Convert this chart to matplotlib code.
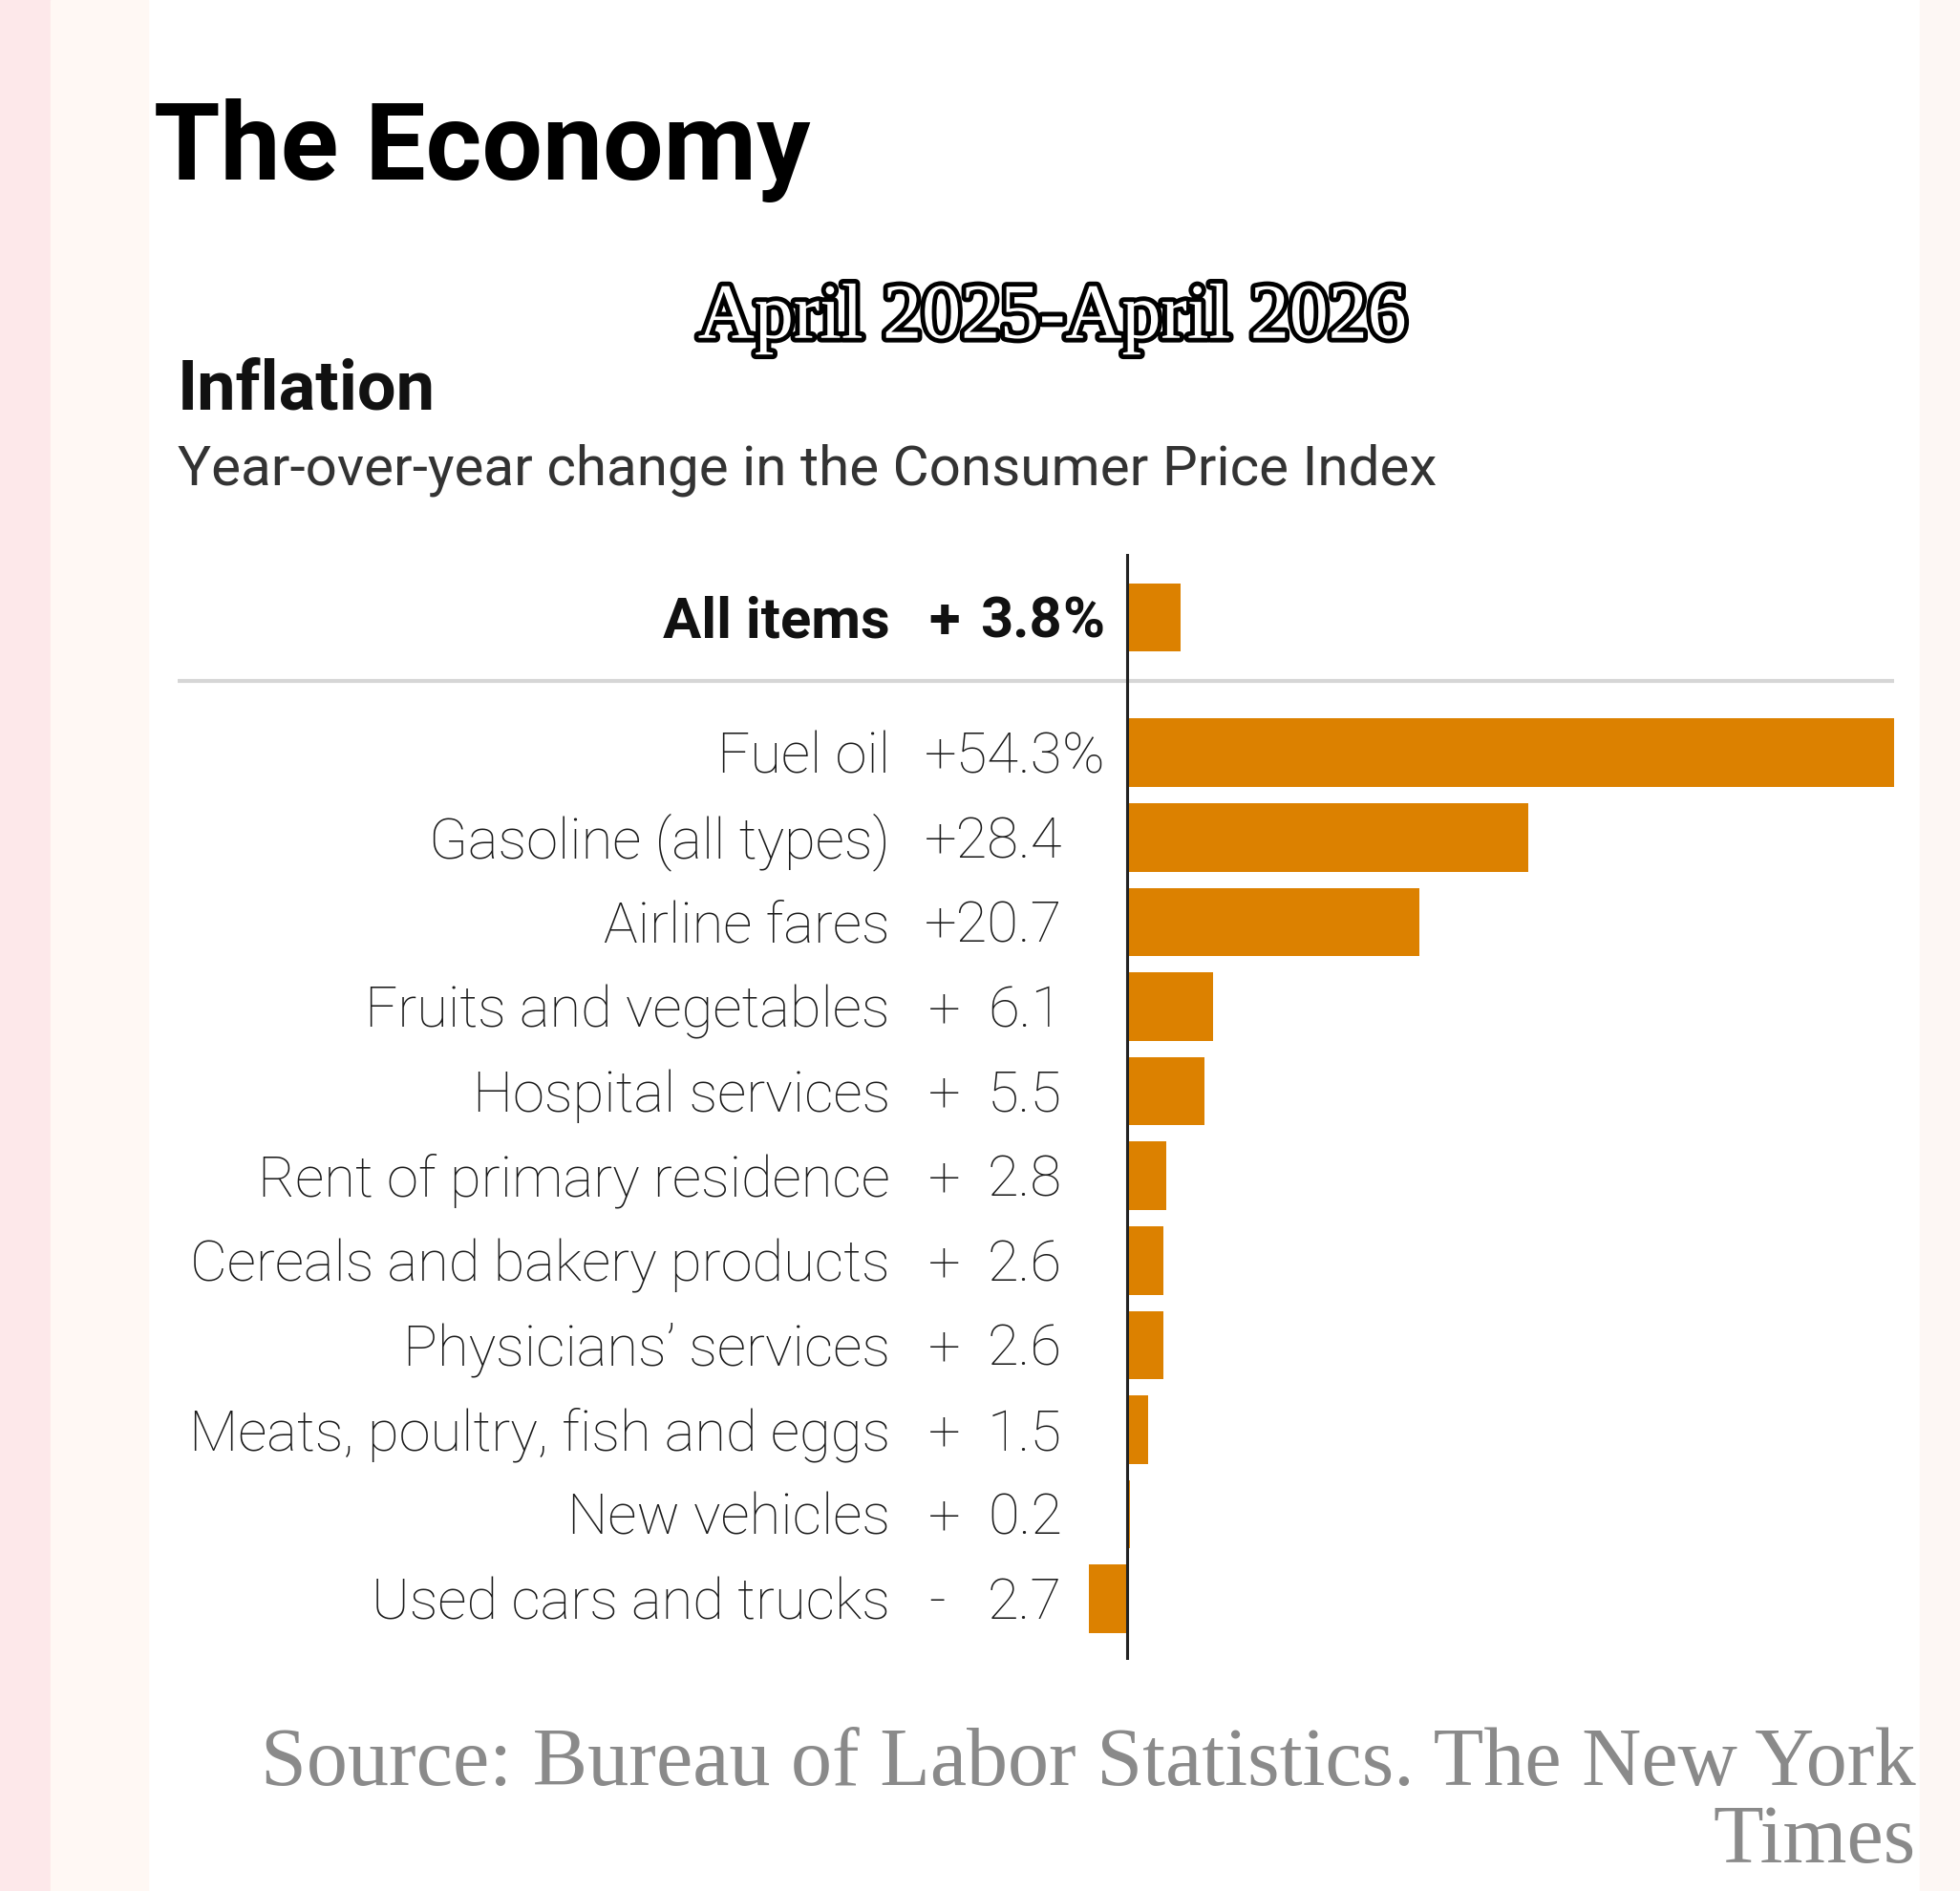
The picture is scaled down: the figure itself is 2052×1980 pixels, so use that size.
import matplotlib.pyplot as plt
from matplotlib import patheffects
from matplotlib.patches import Rectangle
from matplotlib.transforms import blended_transform_factory

# data
categories = ["Fuel oil", "Gasoline (all types)", "Airline fares",
              "Fruits and vegetables", "Hospital services",
              "Rent of primary residence", "Cereals and bakery products",
              "Physicians\u2019 services", "Meats, poultry, fish and eggs",
              "New vehicles", "Used cars and trucks"]
changes = [54.3, 28.4, 20.7, 6.1, 5.5, 2.8, 2.6, 2.6, 1.5, 0.2, -2.7]
total_label = "All items"
total_change = 3.8
pct_rows = [0]  # rows (besides the total) that carry the % sign

W, H = 2052, 1980
SANS = ['Roboto', 'DejaVu Sans']
SERIF = ['Liberation Serif', 'DejaVu Serif']
ORANGE = '#dc8100'

fig = plt.figure(figsize=(W / 100, H / 100), dpi=100)
fig.patch.set_facecolor('white')

# side strips of the screenshot
fig.add_artist(Rectangle((0, 0), 53 / W, 1, transform=fig.transFigure,
                         color='#fde8ea', zorder=0))
fig.add_artist(Rectangle((53 / W, 0), 102 / W, 1, transform=fig.transFigure,
                         color='#fff8f4', zorder=0))
fig.add_artist(Rectangle((2010 / W, 0), 42 / W, 1, transform=fig.transFigure,
                         color='#fdf7f4', zorder=0))

# headings
fig.text(161 / W, 1 - 188 / H, "The Economy", family=SANS, weight='bold',
         fontsize=81, color='black', va='baseline')
fig.text(1102 / W, 1 - 334 / H, "April 2025-April 2026", family=SERIF,
         fontsize=59, color='white', ha='center', va='center',
         path_effects=[patheffects.withStroke(linewidth=7, foreground='black')])
fig.text(186 / W, 1 - 428 / H, "Inflation", family=SANS, weight='bold',
         fontsize=52, color='#111111', va='baseline')
fig.text(186 / W, 1 - 507 / H, "Year-over-year change in the Consumer Price Index",
         family=SANS, fontsize=42, color='#333333', va='baseline')

# chart area
ax = fig.add_axes([186 / W, 1 - 1738 / H, 1797 / W, 1158 / H])
xmax = max(changes)
ax.set_xlim(-xmax * 994 / 803, xmax)
ax.set_ylim(10.72, -2.35)
ax.axis('off')

rows = list(range(len(categories)))
total_row = -1.6
ax.barh(rows, changes, height=0.81, color=ORANGE, zorder=2)
ax.barh([total_row], [total_change], height=0.81, color=ORANGE, zorder=2)
ax.axvline(0, color='#222222', lw=2.2, zorder=3)
ax.axhline(-0.85, xmin=0, xmax=1, color='#d6d6d6', lw=3, zorder=1)

tr = blended_transform_factory(ax.transAxes, ax.transData)
x_label, x_sign, x_num = 0.4151, 0.4374, 0.5153


def row_text(y, label, val, pct, weight, color):
    yb = y + 0.24
    kw = dict(transform=tr, va='baseline', family=SANS, weight=weight,
              fontsize=43, color=color)
    sign = '+' if val >= 0 else '-'
    ax.text(x_label, yb, label, ha='right', **kw)
    if abs(val) >= 10:
        ax.text(x_num, yb, f"{sign}{abs(val):.1f}", ha='right', **kw)
    else:
        ax.text(x_sign, yb, sign, ha='left', **kw)
        ax.text(x_num, yb, f"{abs(val):.1f}", ha='right', **kw)
    if pct:
        ax.text(x_num, yb, '%', ha='left', **kw)


row_text(total_row, total_label, total_change, True, 'bold', '#111111')
for i, (c, v) in enumerate(zip(categories, changes)):
    row_text(i, c, v, i in pct_rows, 'light', '#1a1a1a')

# source
fig.text(2006 / W, 1 - 1950 / H,
         "Source: Bureau of Labor Statistics. The New York\nTimes",
         family=SERIF, fontsize=62, color='#8a8a8a', ha='right',
         multialignment='right', va='baseline', linespacing=1.02)

fig.savefig('out.png', dpi=100, facecolor=fig.get_facecolor())
